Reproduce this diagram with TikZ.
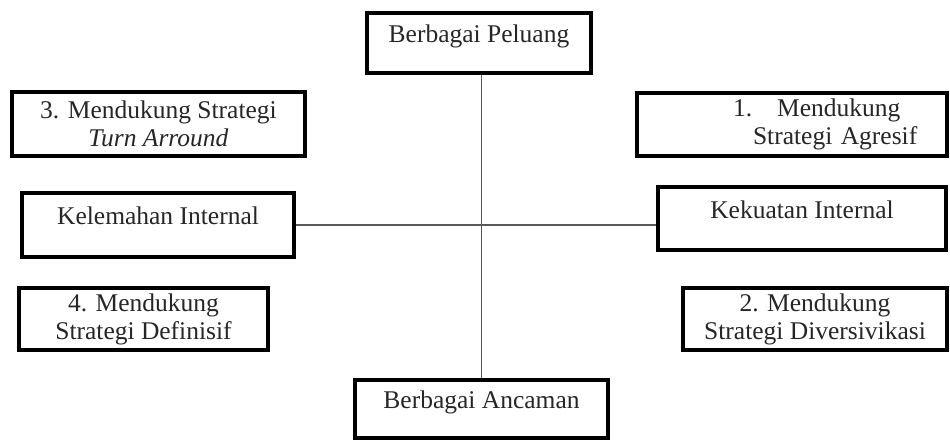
\documentclass[tikz,border=0pt]{standalone}
\usepackage{fontspec}
\setmainfont{Liberation Serif}
\usepackage{tikz}
\usetikzlibrary{positioning}
\tikzstyle{kotak} = [rectangle, draw=black, line width=3.2pt, text=black!85, align=center, font=\fontsize{25.5}{28}\selectfont]
\tikzstyle{satubaris} = [text height=17pt, text depth=18pt]
\tikzstyle{garis} = [draw=black!65, line width=1.5pt]

\begin{document}
\begin{tikzpicture}[x=1pt,y=-1pt]
\useasboundingbox (0,0) rectangle (950,441);
% sumbu atas - bawah
\node[kotak, satubaris, minimum width=224pt, minimum height=60pt] (peluang) at (479,43) {Berbagai Peluang};
\node[kotak, satubaris, minimum width=253pt, minimum height=58pt] (ancaman) at (481.5,409) {Berbagai Ancaman};
% sumbu kiri - kanan
\node[kotak, satubaris, minimum width=272pt, minimum height=64pt] (lemah) at (158,225) {Kelemahan Internal};
\node[kotak, satubaris, minimum width=288pt, minimum height=63pt] (kuat) at (802,218.5) {Kekuatan Internal};
% kuadran
\node[kotak, minimum width=293pt, minimum height=64pt] (turn) at (158.5,124) {3. Mendukung Strategi\\ \textit{Turn Arround}};
\node[kotak, inner xsep=0pt, text width=310pt, align=left, minimum height=63pt] (agresif) at (792,124.5) {\hspace*{96pt}1.\hspace{25pt}Mendukung\\ \hspace*{116pt}Strategi Agresif};
\node[kotak, minimum width=249pt, minimum height=62pt] (defensif) at (143.5,319) {4. Mendukung\\ Strategi Definisif};
\node[kotak, minimum width=264pt, minimum height=62pt] (diversi) at (815,319) {2. Mendukung\\ Strategi Diversivikasi};
% garis
\path[garis] (peluang.south -| ancaman.north) -- (ancaman.north);
\path[garis] (lemah.east) -- (lemah.east -| kuat.west);
\end{tikzpicture}
\end{document}
